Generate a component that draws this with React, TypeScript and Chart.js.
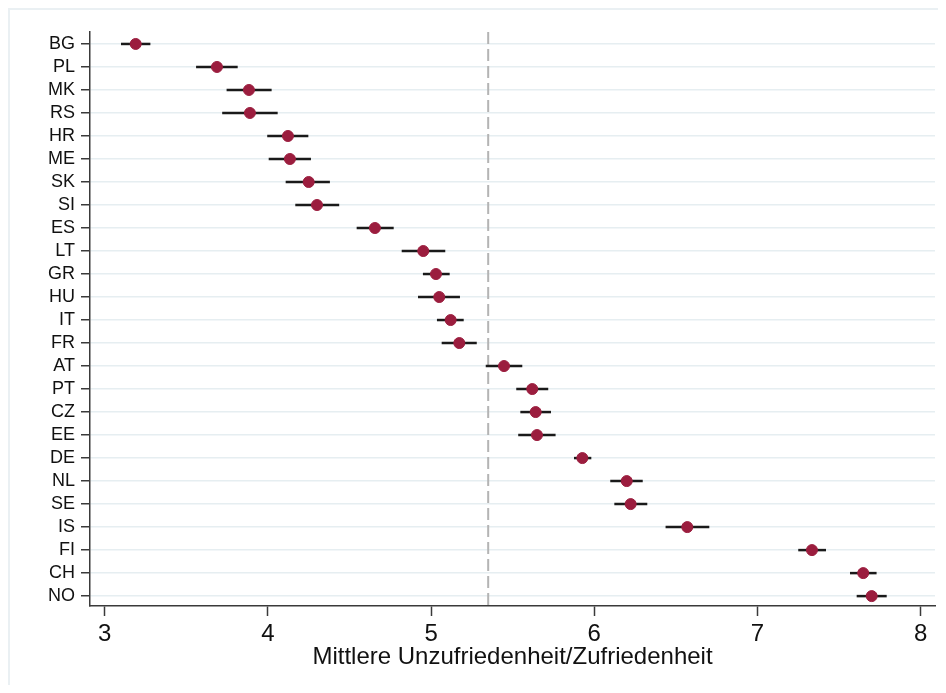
import React, { useEffect, useRef } from "react";
import { Chart, registerables } from "chart.js";

Chart.register(...registerables);

const categories = ["BG","PL","MK","RS","HR","ME","SK","SI","ES","LT","GR","HU","IT","FR","AT","PT","CZ","EE","DE","NL","SE","IS","FI","CH","NO"];
const means = [3.19,3.688,3.884,3.89,4.123,4.135,4.25,4.301,4.656,4.952,5.03,5.05,5.12,5.173,5.447,5.62,5.641,5.649,5.927,6.199,6.223,6.57,7.334,7.648,7.70];
const lower = [3.10,3.56,3.747,3.72,3.996,4.005,4.109,4.168,4.544,4.82,4.95,4.92,5.036,5.065,5.335,5.522,5.547,5.534,5.876,6.098,6.123,6.437,7.25,7.567,7.608];
const upper = [3.28,3.815,4.023,4.06,4.248,4.264,4.38,4.437,4.771,5.087,5.114,5.177,5.2,5.28,5.559,5.718,5.735,5.763,5.982,6.297,6.325,6.705,7.42,7.73,7.792];
const xTicks = [3,4,5,6,7,8];
const referenceValue = 5.35;
const xTitle = "Mittlere Unzufriedenheit/Zufriedenheit";

const FONT = "'Liberation Sans', Arial, sans-serif";

const errorBarPlugin = {
  id: "errorBars",
  beforeDatasetsDraw(chart: any) {
    const { ctx, scales, chartArea } = chart;
    const xs = scales.x, ys = scales.y;
    ctx.save();
    const rx = xs.getPixelForValue(referenceValue);
    ctx.strokeStyle = "#b4b4b4";
    ctx.lineWidth = 2;
    ctx.setLineDash([12, 5]);
    ctx.beginPath();
    ctx.moveTo(rx, chartArea.top);
    ctx.lineTo(rx, chartArea.bottom);
    ctx.stroke();
    ctx.setLineDash([]);
    ctx.strokeStyle = "#1a1a1a";
    ctx.lineWidth = 2.5;
    for (let i = 0; i < categories.length; i++) {
      const y = ys.getPixelForValue(i);
      ctx.beginPath();
      ctx.moveTo(xs.getPixelForValue(lower[i]), y);
      ctx.lineTo(xs.getPixelForValue(upper[i]), y);
      ctx.stroke();
    }
    ctx.restore();
  },
};

export default function App() {
  const ref = useRef<HTMLCanvasElement>(null);
  useEffect(() => {
    if (!ref.current) return;
    const chart = new Chart(ref.current, {
      type: "scatter",
      data: {
        datasets: [
          {
            data: means.map((m, i) => ({ x: m, y: i })),
            backgroundColor: "#9b1d3e",
            borderColor: "#9b1d3e",
            pointRadius: 5.5,
            pointHoverRadius: 5.5,
          },
        ],
      },
      options: {
        animation: false,
        responsive: false,
        maintainAspectRatio: false,
        events: [],
        layout: { padding: { top: 22, right: 9, left: 0, bottom: 0 } },
        plugins: { legend: { display: false }, tooltip: { enabled: false } },
        scales: {
          x: {
            type: "linear",
            min: 2.91,
            max: 8.088,
            afterBuildTicks: (s: any) => {
              s.ticks = xTicks.map((v) => ({ value: v }));
            },
            afterFit: (s: any) => {
              s.height = 79;
            },
            border: { color: "#3a3a3a", width: 1.5 },
            grid: {
              drawOnChartArea: false,
              drawTicks: true,
              tickLength: 10,
              tickColor: "#3a3a3a",
              tickWidth: 1.5,
            },
            ticks: {
              font: { family: FONT, size: 24 },
              color: "#111",
              padding: 4,
              maxRotation: 0,
              autoSkip: false,
            },
            title: {
              display: true,
              text: xTitle,
              font: { family: FONT, size: 24 },
              color: "#111",
              padding: { top: 0, bottom: 13 },
            },
          },
          y: {
            type: "linear",
            reverse: true,
            min: -0.52,
            max: 24.43,
            afterBuildTicks: (s: any) => {
              s.ticks = categories.map((_, i) => ({ value: i }));
            },
            afterFit: (s: any) => {
              s.width = 80;
            },
            border: { color: "#3a3a3a", width: 1.5 },
            grid: {
              color: "#e6eef1",
              lineWidth: 1.5,
              drawTicks: true,
              tickLength: 9,
              tickColor: "#3a3a3a",
              tickWidth: 1.5,
            },
            ticks: {
              font: { family: FONT, size: 18 },
              color: "#111",
              padding: 6,
              autoSkip: false,
              callback: (v: any) => categories[v as number] ?? "",
            },
          },
        },
      },
      plugins: [errorBarPlugin],
    } as any);
    return () => chart.destroy();
  }, []);
  return (
    <div
      style={{
        borderTop: "2px solid #eaf0f3",
        borderLeft: "2px solid #eaf0f3",
        width: 934,
        height: 675,
        background: "#fff",
      }}
    >
      <canvas ref={ref} width={934} height={675} style={{ display: "block" }} />
    </div>
  );
}
